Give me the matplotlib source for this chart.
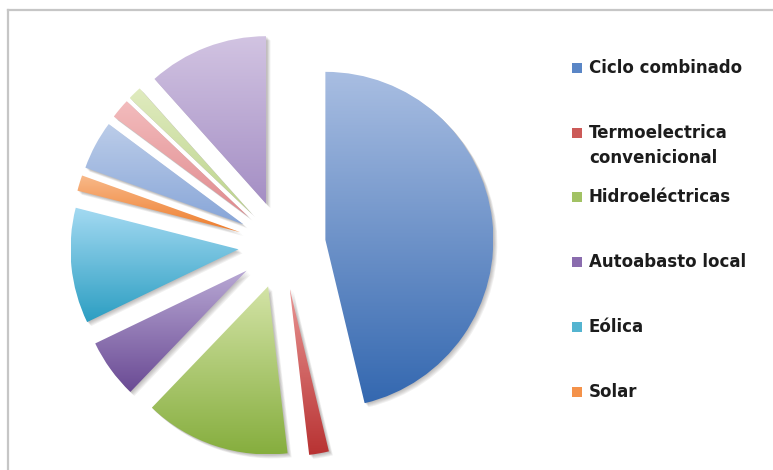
import numpy as np
import matplotlib.pyplot as plt
from matplotlib.patches import Wedge, Rectangle
from matplotlib.colors import LinearSegmentedColormap
from matplotlib.lines import Line2D

# share of each source (%), clockwise from the top
values = [46.2, 1.9, 14.0, 5.7, 11.1, 1.5, 4.7, 1.9, 1.3, 11.6]
labels = ["Ciclo combinado", "Termoelectrica\nconvenicional", "Hidroeléctricas",
          "Autoabasto local", "Eólica", "Solar"]

# top / bottom gradient colours for each slice
top_colors = ["#a9bee2", "#e99694", "#d3e3a6", "#b8a8d4", "#a4daf2", "#f8b98a",
              "#bccde9", "#f3bcbd", "#e0ebbf", "#d2c4e2"]
bottom_colors = ["#3468b0", "#b83232", "#86ae3e", "#6a4a94", "#2c9ec2", "#ee7d2c",
                 "#88a6d8", "#e08a8e", "#bcd48c", "#a48ec4"]
legend_colors = ["#5a86c6", "#cc5a58", "#a2c264", "#8a6cae", "#54b4d0", "#f4924a"]

W, H = 773, 470
R = 168.0                 # pie radius in pixels
cx, cy = 282.0, 245.0     # pie centre in pixels (from top-left)

fig = plt.figure(figsize=(W / 100, H / 100), dpi=100)
ax = fig.add_axes([0, 0, 1, 1])
ax.set_axis_off()

wedges, _ = ax.pie(values, startangle=90, counterclock=False,
                   explode=[0.26] * len(values), radius=1.0,
                   wedgeprops=dict(linewidth=0))

for i, w in enumerate(wedges):
    # soft drop shadow
    for k in range(1, 6):
        d = k * 0.8 / R
        sh = Wedge((w.center[0] + d, w.center[1] - d), w.r, w.theta1, w.theta2,
                   facecolor="#3a3330", alpha=0.07, linewidth=0, zorder=1)
        ax.add_patch(sh)
    # vertical gradient fill clipped to the slice
    w.set_facecolor("none")
    w.set_zorder(3)
    x0, y0, x1, y1 = w.get_path().get_extents().extents
    cmap = LinearSegmentedColormap.from_list("g%d" % i, [bottom_colors[i], top_colors[i]])
    grad = np.linspace(0, 1, 256).reshape(-1, 1)
    im = ax.imshow(grad, cmap=cmap, origin="lower", extent=(x0, x1, y0, y1),
                   interpolation="bilinear", zorder=2, aspect="auto")
    im.set_clip_path(w)

ax.set_xlim(-cx / R, (W - cx) / R)
ax.set_ylim((cy - H) / R, cy / R)
ax.set_aspect("auto")

# chart frame (top and left edges)
fig.add_artist(Line2D([8 / W, 1], [1 - 10 / H, 1 - 10 / H], color="#c6c6c6", lw=1.6))
fig.add_artist(Line2D([8 / W, 8 / W], [0, 1 - 10 / H], color="#c6c6c6", lw=1.6))

# legend
ys = [68, 133, 197, 262, 327, 392]
for lab, col, y in zip(labels, legend_colors, ys):
    fig.add_artist(Rectangle((572 / W, 1 - (y + 5) / H), 10 / W, 10 / H,
                             facecolor=col, edgecolor="none"))
    for j, line in enumerate(lab.split("\n")):
        fig.text(589 / W, 1 - (y + j * 25) / H, line, fontsize=12, fontweight="bold",
                 color="#1c1c1c", va="center", ha="left", family="DejaVu Sans")

fig.savefig("out.png", dpi=100, facecolor="white")
